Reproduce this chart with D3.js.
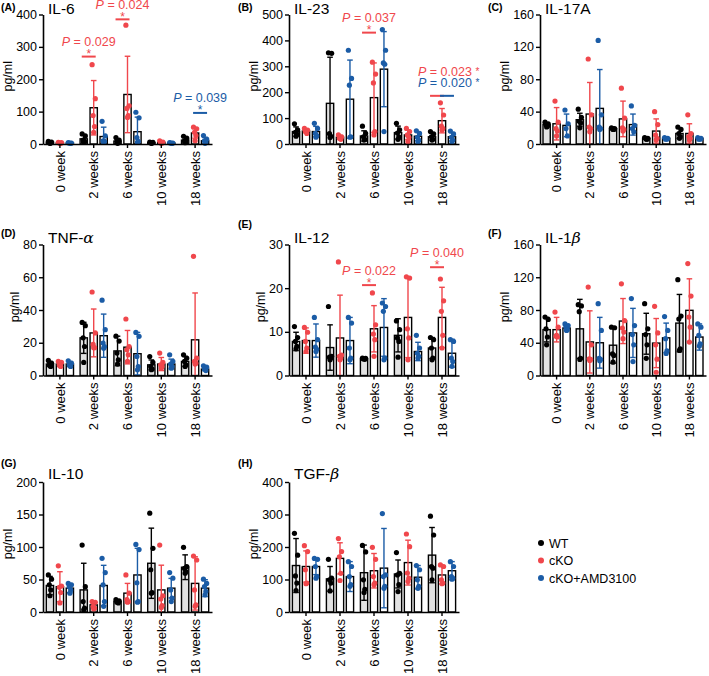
<!DOCTYPE html>
<html><head><meta charset="utf-8">
<script src="https://cdn.jsdelivr.net/npm/d3@7"></script>
<style>body{margin:0;background:#fff} text{font-family:"Liberation Sans",Arial,sans-serif}</style>
</head><body><svg id="c" width="709" height="676"></svg>
<script>
// ---------------- data ----------------
const groups = ["0 week", "2 weeks", "6 weeks", "10 weeks", "18 weeks"];
const seriesNames = ["WT", "cKO", "cKO+AMD3100"];
const seriesColors = ["#000000", "#F0474C", "#1B5CA6"];

// IL-6
const il6Ticks = [0, 100, 200, 300, 400];
const il6Mean = [[5, 16, 9, 4, 12], [3, 112, 153, 5, 34], [3, 23, 38, 3, 10]];
const il6SD = [[2, 11, 6, 1.5, 8], [1.5, 84, 118, 3, 16], [1, 29, 45, 1, 10]];
const il6Pts = [
  [[8, 6, 4, 3, 2], [31, 25, 12, 8, 5], [20, 12, 8, 4, 2], [6, 5, 4, 3, 2], [24, 18, 10, 6, 4]],
  [[5, 4, 3, 2, 2], [245, 140, 88, 54, 36], [367, 118, 110, 88, 82], [10, 6, 4, 3, 2], [52, 47, 36, 26, 10]],
  [[4, 3, 3, 2], [70, 25, 10, 8, 5], [98, 81, 20, 8, 5], [4, 3, 3, 2], [26, 15, 10, 5, 2]]];
const il6Sig = [
  {g: 1, a: 0, b: 1, y: 270, label: "P = 0.029", c: 1},
  {g: 2, a: 0, b: 1, y: 385, label: "P = 0.024", c: 1},
  {g: 4, a: 1, b: 2, y: 96, label: "P = 0.039", c: 2}];

// IL-23
const il23Ticks = [0, 100, 200, 300, 400, 500];
const il23Mean = [[48, 157, 31, 44, 28], [50, 26, 179, 35, 90], [48, 173, 289, 30, 28]];
const il23SD = [[18, 178, 20, 25, 13], [6, 7, 134, 18, 47], [20, 151, 145, 17, 16]];
const il23Pts = [
  [[78, 55, 45, 38, 30], [352, 350, 40, 30, 25], [69, 41, 28, 18, 15], [80, 55, 42, 28, 18], [48, 39, 28, 18, 15]],
  [[60, 54, 48, 41], [35, 28, 22, 18], [316, 270, 236, 48, 35], [60, 48, 35, 26, 9], [159, 112, 69, 60, 54]],
  [[80, 60, 41, 32, 26], [362, 253, 227, 28, 26], [442, 362, 313, 308, 48], [51, 41, 26, 15, 9], [50, 39, 26, 15, 9]]];
const il23Sig = [
  {g: 2, a: 0, b: 1, y: 430, label: "P = 0.037", c: 1},
  {g: 4, a: 0, b: 1, y: 186, label: "P = 0.023", c: 1, side: 0},
  {g: 4, a: 1, b: 2, y: 186, label: "P = 0.020", c: 2, side: 1}];

// IL-17A
const il17Ticks = [0, 40, 80, 120, 160];
const il17Mean = [[24, 30, 19, 7, 13], [25, 37, 31, 16, 13], [23, 44, 24, 7, 7]];
const il17SD = [[2, 8, 1, 1, 6], [20, 39, 22, 15, 12], [14, 48, 13, 1, 1]];
const il17Pts = [
  [[27, 25, 24, 22, 21], [43, 33, 28, 26, 20], [20, 19, 19, 18, 18], [8, 7, 7, 6, 6], [21, 18, 13, 9, 7]],
  [[53, 27, 19, 16, 10], [105, 36, 21, 19, 15], [69, 32, 20, 18, 16], [40, 24, 11, 7, 5], [36, 13, 9, 7, 5]],
  [[42, 25, 19, 10], [128, 36, 21, 19, 18], [47, 23, 19, 15], [8, 7, 6, 6], [8, 7, 6, 6]]];
const il17Sig = [];

// TNF-alpha
const tnfTicks = [0, 20, 40, 60, 80];
const tnfMean = [[7, 23, 15, 6.5, 8.6], [7, 26, 17.3, 7, 21.8], [7, 24.3, 13.3, 7, 3.9]];
const tnfSD = [[1.5, 9.5, 9, 3, 3], [1.5, 14.6, 10.2, 4, 28.6], [1.5, 13.2, 13, 3, 1]];
const tnfPts = [
  [[9.2, 7.5, 6.5, 5.5, 6], [32.4, 30.4, 23, 17.7, 8], [24, 21, 13.7, 9.6, 7], [11.6, 8, 5.5, 3.9, 3.5], [12.6, 10.6, 8.6, 6.5, 5.5]],
  [[8.6, 8, 6.5, 5.5, 6], [51, 26, 19, 17, 17], [34.5, 17.7, 15.7, 12.6, 8.6], [13.7, 8, 6.5, 5.5, 4.5], [72.8, 10.6, 8.6, 7.5, 7]],
  [[9, 7.5, 6.5, 5.5, 6], [46, 28, 19.8, 17.7, 16.7], [26.3, 23.9, 11.6, 5.5, 3.5], [12.6, 8.6, 7, 5.5, 4.5], [5.9, 5.1, 3.9, 3]]];
const tnfSig = [];

// IL-12
const il12Ticks = [0, 10, 20, 30];
const il12Mean = [[7.8, 6.4, 3.8, 9.2, 6.3], [8, 8.6, 10.7, 13.3, 13.3], [8, 8, 11, 5.5, 5.1]];
const il12SD = [[2.1, 5.2, 0.2, 3.8, 2.4], [2.9, 9.8, 5.3, 9.2, 6.9], [3.8, 5.3, 6.6, 2.1, 3.2]];
const il12Pts = [
  [[11.2, 8.7, 7.8, 6.7, 6.1], [15.8, 4.4, 4.2, 4, 3.6], [4, 3.9, 3.8, 3.7], [12.5, 10.5, 8.6, 7.8, 4.2], [8.7, 8.2, 6.3, 4, 3.6]],
  [[11, 9.9, 7.8, 6.3, 5.5], [26, 4.7, 4.4, 4, 3.6], [18.9, 11.6, 9.5, 8.2, 4.4], [22.6, 22.3, 10.7, 8.6, 3.6], [22.1, 17.1, 14.7, 9.2, 6.3]],
  [[13.3, 8.2, 6.5, 6, 5.5], [13.3, 12, 6.3, 4, 3.6], [16.6, 15.8, 14.7, 4, 3.6], [9.2, 6.3, 5.1, 4.4, 4], [8.2, 7.8, 4, 3.2, 2.1]]];
const il12Sig = [
  {g: 2, a: 0, b: 1, y: 20.7, label: "P = 0.022", c: 1},
  {g: 4, a: 0, b: 1, y: 24.8, label: "P = 0.040", c: 1}];

// IL-1beta
const il1bTicks = [0, 40, 80, 120, 160];
const il1bMean = [[56, 57, 37, 51, 64], [56, 41, 66.5, 39.6, 79.6], [58, 40, 52, 46, 47]];
const il1bSD = [[15, 36, 22, 25, 35], [15, 38, 27.5, 30, 38.5], [3, 31, 30, 18, 16]];
const il1bPts = [
  [[71.4, 68.5, 57, 47, 37.5], [86.5, 85, 78, 21, 19.6], [59, 58.3, 26.5, 24.5, 16.3], [87.7, 57, 50, 37.5, 21], [117, 72.6, 69, 32.6, 30.6]],
  [[77.5, 59, 48, 47, 49], [108, 37.5, 20.4, 19.6, 18.4], [112, 67, 58, 53, 45], [84.5, 52, 37.5, 20, 4], [136.7, 97, 71.4, 59, 40.8]],
  [[63, 61, 59, 56, 55], [87.7, 55, 21, 19.6, 18], [94, 61, 50, 37.5, 17], [72, 55, 45, 30, 27], [63, 59, 49, 38.8, 36]]];
const il1bSig = [];

// IL-10
const il10Ticks = [0, 50, 100, 150, 200];
const il10Mean = [[40.8, 34, 16.3, 75, 68.9], [39, 11, 29, 34, 44], [36.7, 40.8, 57, 36.7, 36.7]];
const il10SD = [[14, 41, 2, 54, 19], [23, 5, 15, 38, 41], [7, 31, 41, 15, 13]];
const il10Pts = [
  [[57, 50.5, 41.8, 34, 25], [103, 39, 16, 6, 3.5], [19, 17, 15, 14], [152, 98, 65, 30, 29], [99.5, 70, 67, 62, 59.7]],
  [[71, 40, 38, 30, 14], [16, 15, 8.7, 6, 4.6], [57, 29, 19, 16, 15], [103, 25, 20, 10, 7], [86, 80, 34, 11, 8.7]],
  [[44, 41.8, 39, 34, 29], [82.6, 60.7, 41.8, 16, 8.7], [104, 96, 45, 16, 15], [60.7, 52, 34, 21.4, 16], [50.5, 44, 39, 31.6, 26.5]]];
const il10Sig = [];

// TGF-beta
const tgfTicks = [0, 100, 200, 300, 400];
const tgfMean = [[143, 102, 121, 117, 175], [140, 165, 127, 152, 114], [140, 109, 135, 107, 127]];
const tgfSD = [[83, 38, 85, 43, 85], [48, 48, 53, 69, 28], [25, 46, 122, 36, 28]];
const tgfPts = [
  [[242, 175, 111, 89, 66], [162, 104, 99, 89, 65], [205, 185, 99, 70, 60], [183, 119, 114, 84, 63], [295, 237, 140, 135, 99]],
  [[204, 186, 130, 89, 87], [226, 186, 170, 119, 97], [199, 162, 109, 89, 84], [240, 201, 120, 104, 94], [145, 140, 99, 89, 87]],
  [[165, 162, 140, 109, 104], [155, 140, 109, 84, 79], [303, 114, 109, 79, 73], [143, 130, 99, 79, 73], [155, 140, 109, 104, 101]]];
const tgfSig = [];

// ---------------- layout ----------------
const panels = [
  {tag: "(A)", title: "IL-6", mean: il6Mean, sd: il6SD, pts: il6Pts, ticks: il6Ticks, sig: il6Sig, col: 0, row: 0},
  {tag: "(B)", title: "IL-23", mean: il23Mean, sd: il23SD, pts: il23Pts, ticks: il23Ticks, sig: il23Sig, col: 1, row: 0},
  {tag: "(C)", title: "IL-17A", mean: il17Mean, sd: il17SD, pts: il17Pts, ticks: il17Ticks, sig: il17Sig, col: 2, row: 0},
  {tag: "(D)", title: "TNF-α", mean: tnfMean, sd: tnfSD, pts: tnfPts, ticks: tnfTicks, sig: tnfSig, col: 0, row: 1},
  {tag: "(E)", title: "IL-12", mean: il12Mean, sd: il12SD, pts: il12Pts, ticks: il12Ticks, sig: il12Sig, col: 1, row: 1},
  {tag: "(F)", title: "IL-1β", mean: il1bMean, sd: il1bSD, pts: il1bPts, ticks: il1bTicks, sig: il1bSig, col: 2, row: 1},
  {tag: "(G)", title: "IL-10", mean: il10Mean, sd: il10SD, pts: il10Pts, ticks: il10Ticks, sig: il10Sig, col: 0, row: 2},
  {tag: "(H)", title: "TGF-β", mean: tgfMean, sd: tgfSD, pts: tgfPts, ticks: tgfTicks, sig: tgfSig, col: 1, row: 2}];

const colX = [[43, 212], [289, 459], [540, 706]];
const tagX = [1, 238, 488];
const rowY = [[144, 14.5], [375.5, 244.5], [612, 482]];
const tagBase = [11, 237, 467];
const titleBase = [14, 243, 479];
const barFill = ["#e2e2e2", "#ffffff", "#ffffff"];
const jitter = [-1.6, 1.6, -0.6, 0.8, 0];

const svg = d3.select("#c");

function drawTitle(g, txt, x, y) {
  const t = g.append("text").attr("x", x).attr("y", y).attr("font-size", 15.5).attr("fill", "#000");
  const m = txt.match(/^(.*?)([αβ])$/);
  if (m) {
    t.append("tspan").text(m[1]);
    t.append("tspan").attr("font-style", "italic").attr("font-family", "DejaVu Serif, serif").text(m[2]);
  } else t.text(txt);
}

panels.forEach(p => {
  const g = svg.append("g");
  const [x0, x1] = colX[p.col];
  const [yb, yt] = rowY[p.row];
  const x = d3.scaleBand().domain(groups).range([x0, x1]);
  const xi = d3.scaleBand().domain([0, 1, 2]).range([-13.6, 13.6]).paddingInner(0.27);
  const y = d3.scaleLinear().domain([0, p.ticks[p.ticks.length - 1]]).range([yb, yt]);
  const cx = (gi, s) => x(groups[gi]) + x.bandwidth() / 2 + xi(s) + xi.bandwidth() / 2;

  g.append("text").attr("x", tagX[p.col]).attr("y", tagBase[p.row] - (p.tag === "(E)" ? 9 : 0))
    .attr("font-size", 10.5).attr("font-weight", "bold").text(p.tag);
  drawTitle(g, p.title, x0 + 5, titleBase[p.row]);

  p.mean.forEach((vals, s) => {
    vals.forEach((v, gi) => {
      g.append("rect")
        .attr("x", cx(gi, s) - xi.bandwidth() / 2).attr("width", xi.bandwidth())
        .attr("y", y(v)).attr("height", yb - y(v))
        .attr("fill", barFill[s]).attr("stroke", "#000").attr("stroke-width", 1.4);
    });
  });
  p.mean.forEach((vals, s) => {
    vals.forEach((v, gi) => {
      const sd = p.sd[s][gi];
      const lo = Math.max(0, v - sd), hi = v + sd;
      const c = cx(gi, s);
      const col = seriesColors[s];
      g.append("line").attr("x1", c).attr("x2", c).attr("y1", y(lo)).attr("y2", y(hi))
        .attr("stroke", col).attr("stroke-width", 1.4);
      g.append("line").attr("x1", c - 2.8).attr("x2", c + 2.8).attr("y1", y(hi)).attr("y2", y(hi))
        .attr("stroke", col).attr("stroke-width", 1.4);
      if (v - sd > 0)
        g.append("line").attr("x1", c - 2.8).attr("x2", c + 2.8).attr("y1", y(lo)).attr("y2", y(lo))
          .attr("stroke", col).attr("stroke-width", 1.4);
    });
  });
  p.pts.forEach((grp, s) => {
    grp.forEach((arr, gi) => {
      arr.forEach((v, k) => {
        g.append("circle").attr("cx", cx(gi, s) + jitter[k % jitter.length]).attr("cy", y(v))
          .attr("r", 2.6).attr("fill", seriesColors[s]);
      });
    });
  });

  const ya = g.append("g").attr("transform", `translate(${x0},0)`)
    .call(d3.axisLeft(y).tickValues(p.ticks).tickSize(4).tickSizeOuter(0).tickPadding(2));
  ya.selectAll("text").attr("font-size", 12.5).attr("fill", "#000").attr("font-family", "Liberation Sans, Arial");
  ya.selectAll("line").attr("stroke", "#000").attr("stroke-width", 1.4);
  ya.select(".domain").attr("stroke", "#000").attr("stroke-width", 1.6);

  const xa = g.append("g").attr("transform", `translate(0,${yb})`)
    .call(d3.axisBottom(x).tickSize(4).tickSizeOuter(0));
  xa.select(".domain").attr("stroke", "#000").attr("stroke-width", 1.6);
  xa.selectAll("line").attr("stroke", "#000").attr("stroke-width", 1.4);
  xa.selectAll("text").attr("font-size", 13).attr("fill", "#000").attr("font-family", "Liberation Sans, Arial")
    .attr("transform", "rotate(-90)").attr("text-anchor", "end")
    .attr("x", -7).attr("y", 0).attr("dy", "0.36em");

  const bb = ya.node().getBBox();
  g.append("text").attr("transform", `translate(${x0 + bb.x - 4},${(yb + yt) / 2 - 3}) rotate(-90)`)
    .attr("text-anchor", "middle").attr("font-size", 12.5).text("pg/ml");

  p.sig.forEach(a => {
    const col = seriesColors[a.c];
    const xa1 = cx(a.g, a.a) - 2, xb1 = cx(a.g, a.b) + 2, ly = y(a.y);
    g.append("line").attr("x1", xa1).attr("x2", xb1).attr("y1", ly).attr("y2", ly)
      .attr("stroke", col).attr("stroke-width", 2);
    if (a.side === undefined) {
      g.append("text").attr("x", (xa1 + xb1) / 2).attr("y", ly + 1.5).attr("text-anchor", "middle")
        .attr("font-size", 12).attr("fill", col).text("*");
      const t = g.append("text").attr("x", (xa1 + xb1) / 2).attr("y", ly - 10.5).attr("text-anchor", "middle")
        .attr("font-size", 12.5).attr("fill", col);
      t.append("tspan").attr("font-style", "italic").text(a.label.slice(0, 1));
      t.append("tspan").text(a.label.slice(1));
    } else {
      const t = g.append("text").attr("x", cx(a.g, 0) - 14).attr("y", ly - 20 + a.side * 11)
        .attr("font-size", 12.5).attr("fill", col);
      t.append("tspan").attr("font-style", "italic").text(a.label.slice(0, 1));
      t.append("tspan").text(a.label.slice(1) + " ");
      t.append("tspan").attr("font-size", 10).attr("dy", -1).text("*");
    }
  });
});

const lg = svg.append("g");
seriesNames.forEach((n, i) => {
  lg.append("circle").attr("cx", 541).attr("cy", 543 + i * 17.5).attr("r", 3).attr("fill", seriesColors[i]);
  lg.append("text").attr("x", 549).attr("y", 543 + i * 17.5 + 4.5).attr("font-size", 12.5).text(n);
});
</script></body></html>
